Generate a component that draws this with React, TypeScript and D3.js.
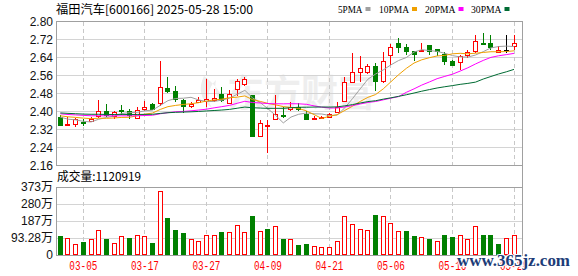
import React from 'react';
import * as d3 from 'd3';

const dates = [
  '02-28', '03-03', '03-04', '03-05', '03-06', '03-07', '03-10', '03-11', '03-12', '03-13', '03-14',
  '03-17', '03-18', '03-19', '03-20', '03-21', '03-24', '03-25', '03-26', '03-27', '03-28',
  '03-31', '04-01', '04-02', '04-03', '04-07', '04-08', '04-09', '04-10', '04-11',
  '04-14', '04-15', '04-16', '04-17', '04-18', '04-21', '04-22', '04-23', '04-24', '04-25',
  '04-28', '04-29', '04-30', '05-06', '05-07', '05-08', '05-09', '05-12', '05-13', '05-14',
  '05-15', '05-16', '05-19', '05-20', '05-21', '05-22', '05-23', '05-26', '05-27', '05-28',
];
const open = [
  2.376, 2.343, 2.342, 2.352, 2.358, 2.380, 2.401, 2.378, 2.408, 2.403,
  2.372, 2.412, 2.432, 2.435, 2.504, 2.492, 2.450, 2.424, 2.443, 2.447,
  2.449, 2.476, 2.435, 2.498, 2.523, 2.472, 2.292, 2.335, 2.364, 2.382,
  2.410, 2.420, 2.387, 2.365, 2.370, 2.374, 2.395, 2.446, 2.530, 2.576,
  2.576, 2.603, 2.533, 2.649, 2.703, 2.687, 2.667, 2.667, 2.696, 2.676,
  2.655, 2.622, 2.619, 2.649, 2.667, 2.703, 2.703, 2.664, 2.674, 2.689,
];
const high = [
  2.384, 2.376, 2.371, 2.364, 2.373, 2.450, 2.432, 2.400, 2.430, 2.409,
  2.417, 2.447, 2.438, 2.625, 2.552, 2.513, 2.455, 2.443, 2.462, 2.542,
  2.497, 2.507, 2.495, 2.542, 2.553, 2.472, 2.361, 2.361, 2.472, 2.418,
  2.443, 2.435, 2.400, 2.378, 2.380, 2.394, 2.440, 2.554, 2.658, 2.646,
  2.610, 2.615, 2.664, 2.699, 2.726, 2.699, 2.669, 2.704, 2.696, 2.676,
  2.664, 2.626, 2.649, 2.674, 2.738, 2.748, 2.738, 2.689, 2.738, 2.738,
];
const low = [
  2.335, 2.340, 2.332, 2.335, 2.355, 2.369, 2.373, 2.366, 2.385, 2.366,
  2.371, 2.403, 2.406, 2.424, 2.483, 2.443, 2.391, 2.413, 2.435, 2.420,
  2.443, 2.443, 2.432, 2.467, 2.512, 2.290, 2.290, 2.216, 2.361, 2.372,
  2.400, 2.400, 2.360, 2.364, 2.367, 2.370, 2.392, 2.443, 2.524, 2.532,
  2.568, 2.492, 2.526, 2.607, 2.659, 2.649, 2.622, 2.665, 2.649, 2.648,
  2.604, 2.600, 2.585, 2.637, 2.659, 2.699, 2.674, 2.659, 2.659, 2.674,
];
const close = [
  2.340, 2.345, 2.364, 2.348, 2.366, 2.401, 2.383, 2.398, 2.403, 2.385,
  2.408, 2.418, 2.412, 2.509, 2.490, 2.456, 2.424, 2.432, 2.450, 2.455,
  2.459, 2.452, 2.476, 2.535, 2.545, 2.290, 2.347, 2.340, 2.387, 2.378,
  2.420, 2.409, 2.368, 2.370, 2.373, 2.387, 2.418, 2.530, 2.573, 2.591,
  2.601, 2.533, 2.622, 2.686, 2.687, 2.667, 2.655, 2.674, 2.667, 2.668,
  2.625, 2.604, 2.644, 2.664, 2.714, 2.700, 2.687, 2.674, 2.674, 2.703,
];
// volume in 万 (10k lots)
const volume = [
  104, 91, 60, 73, 88, 137, 88, 68, 104, 93,
  110, 104, 68, 351, 201, 137, 122, 86, 79, 110,
  110, 126, 126, 165, 126, 214, 132, 143, 159, 88,
  86, 55, 60, 49, 42, 42, 77, 214, 170, 141,
  137, 219, 214, 174, 130, 130, 104, 100, 86, 78,
  110, 97, 108, 86, 159, 110, 110, 60, 92, 112.0919,
];
// closes before the visible window (used only for the moving averages)
const priorCloses = [
  2.40, 2.41, 2.40, 2.39, 2.40, 2.41, 2.40, 2.39, 2.40, 2.40,
  2.41, 2.40, 2.39, 2.40, 2.40, 2.39, 2.40, 2.40, 2.39, 2.40,
  2.39, 2.39, 2.38, 2.39, 2.38, 2.39, 2.38, 2.38, 2.38,
];
const priceTicks = [2.16, 2.24, 2.32, 2.40, 2.48, 2.56, 2.64, 2.72, 2.80];
const volTicks = [0, 93.28, 186.56, 279.84, 373.12];
const volTickLabels = ['0', '93.28万', '187万', '280万', '373万'];
const xTickLabels = ['03-05', '03-17', '03-27', '04-09', '04-21', '05-06', '05-16', '05-28'];
const maPeriods = [5, 10, 20, 30];
const maNames = ['5PMA', '10PMA', '20PMA', '30PMA'];
const maColors = ['#a0a0a0', '#f0a000', '#ff00ff', '#006b33'];
const title = '福田汽车[600166] 2025-05-28 15:00';
const volLabel = '成交量:1120919';

const W = 578;
const H = 276;
const L = 56;
const R = 522;
const RED = '#ff0000';
const GREEN = '#008000';
const FRAME = '#a0a0a0';
const GRID = '#d4d4d4';

export default function App() {
  const x = d3.scalePoint<string>().domain(dates).range([60.3, 514]);
  const y = d3.scaleLinear().domain([2.16, 2.8]).range([165.3, 21.3]);
  const yv = d3.scaleLinear().domain([0, 373.12]).range([255, 187]);

  const all = priorCloses.concat(close);
  const mas = maPeriods.map((p) =>
    close.map((_, i) => {
      const idx = priorCloses.length + i;
      return d3.mean(all.slice(idx - p + 1, idx + 1)) as number;
    })
  );
  const line = d3
    .line<number>()
    .x((_, i) => x(dates[i]) as number)
    .y((v) => y(v));

  const px = (v: number) => Math.floor(v) + 0.5;

  const candles = dates.map((d, i) => {
    const cx = px(x(d) as number);
    const o = open[i];
    const c = close[i];
    const col = c > o ? RED : c < o ? GREEN : '#000000';
    const yH = y(high[i]);
    const yL = y(low[i]);
    const yT = Math.round(y(Math.max(o, c))) + 0.5;
    const yB = Math.round(y(Math.min(o, c))) + 0.5;
    const els: React.ReactNode[] = [
      <line key="w" x1={cx} x2={cx} y1={yH} y2={yL} stroke={col} strokeWidth={1} />,
    ];
    if (yB - yT < 1) {
      els.push(<line key="b" x1={cx - 2.5} x2={cx + 2.5} y1={yT} y2={yT} stroke={col} strokeWidth={c === o ? 1 : 2} />);
    } else if (c > o) {
      els.push(<rect key="b" x={cx - 2} y={yT} width={4} height={yB - yT} fill="#fff" stroke={col} strokeWidth={1} />);
    } else {
      els.push(<rect key="b" x={cx - 2.5} y={yT - 0.5} width={5} height={yB - yT + 1} fill={col} />);
    }
    return <g key={d}>{els}</g>;
  });

  const vols = dates.map((d, i) => {
    const cx = px(x(d) as number);
    const up = i === 0 ? close[0] >= open[0] : close[i] >= close[i - 1];
    const top = Math.round(yv(volume[i])) + 0.5;
    const base = 254.5;
    return up ? (
      <rect key={d} x={cx - 2} y={top} width={4} height={base - top} fill="#fff" stroke={RED} strokeWidth={1} />
    ) : (
      <rect key={d} x={cx - 2.5} y={top - 0.5} width={5} height={base - top + 1} fill={GREEN} />
    );
  });

  const legendX = [338, 379, 425, 471];
  const legendW = [24.5, 30, 30.5, 30.5];

  const monoFont = "'Liberation Mono', 'Noto Sans CJK SC', monospace";
  const axisFont = "'Liberation Sans', 'Noto Sans CJK SC', sans-serif";

  return (
    <svg width={W} height={H} style={{ position: 'absolute', left: 0, top: 0, background: '#fff' }}>
      <rect x={0} y={0} width={W} height={H} fill="#fff" />
      {/* watermark */}
      <text x={227} y={107} fontFamily="'Noto Sans CJK SC'" fontSize={37} fontWeight={700} fill="#eeeeee">
        东方财富
      </text>
      <path d="M204 76 C 198 88, 200 100, 212 108 C 206 98, 208 88, 216 80 C 214 90, 216 98, 224 104 C 222 92, 214 84, 204 76 Z" fill="#ededed" />

      {/* price grid */}
      {priceTicks.slice(1, -1).map((t) => (
        <line key={t} x1={L} x2={R} y1={Math.round(y(t)) + 0.5} y2={Math.round(y(t)) + 0.5} stroke={GRID} />
      ))}
      {volTicks.slice(1, -1).map((t) => (
        <line key={t} x1={L} x2={R} y1={Math.round(yv(t)) + 0.5} y2={Math.round(yv(t)) + 0.5} stroke={GRID} />
      ))}
      {xTickLabels.map((t) => {
        const xx = px(x(t) as number);
        return (
          <g key={t}>
            <line x1={xx} x2={xx} y1={22} y2={165} stroke="#c8c8c8" strokeDasharray="4,3" />
            <line x1={xx} x2={xx} y1={188} y2={255} stroke="#c8c8c8" strokeDasharray="4,3" />
          </g>
        );
      })}

      {/* frames */}
      <line x1={L} x2={R} y1={21.5} y2={21.5} stroke={FRAME} />
      <line x1={L} x2={R} y1={165.5} y2={165.5} stroke={FRAME} />
      <line x1={L} x2={R} y1={187.5} y2={187.5} stroke={FRAME} />
      <line x1={L} x2={R} y1={255.5} y2={255.5} stroke={FRAME} />
      <line x1={L + 0.5} x2={L + 0.5} y1={21} y2={166} stroke={FRAME} />
      <line x1={L + 0.5} x2={L + 0.5} y1={187} y2={256} stroke={FRAME} />
      <line x1={R + 0.5} x2={R + 0.5} y1={21} y2={256} stroke={FRAME} />

      {/* candles */}
      <g shapeRendering="crispEdges">{candles}</g>

      {/* moving averages */}
      {mas.map((m, k) => (
        <path key={k} d={line(m) as string} fill="none" stroke={maColors[k]} strokeWidth={1} />
      ))}

      {/* volume */}
      <g shapeRendering="crispEdges">{vols}</g>

      {/* axis labels */}
      {priceTicks.map((t) => (
        <text key={t} x={53} y={y(t)} dy="0.35em" textAnchor="end" fontFamily={axisFont} fontSize={12} fill="#111">
          {t.toFixed(2)}
        </text>
      ))}
      {volTicks.map((t, i) => (
        <text key={t} x={53} y={yv(t)} dy="0.35em" textAnchor="end" fontFamily={axisFont} fontSize={12} fill="#111">
          {volTickLabels[i]}
        </text>
      ))}
      {xTickLabels.map((t) => (
        <text key={t} x={x(t) as number} y={270} textAnchor="middle" fontFamily={monoFont} fontSize={12} fill={RED} textLength={28} lengthAdjust="spacingAndGlyphs">
          {t}
        </text>
      ))}

      {/* title & legend */}
      <text x={56} y={13.5} fontFamily="'Noto Sans CJK SC'" fontSize={12} fill="#000" textLength={197} lengthAdjust="spacingAndGlyphs">
        {title}
      </text>
      {maNames.map((n, k) => (
        <g key={n}>
          <text x={legendX[k]} y={12.5} fontFamily="'Liberation Serif', serif" fontSize={11} fill="#000" textLength={legendW[k]} lengthAdjust="spacingAndGlyphs">
            {n}
          </text>
          <rect x={legendX[k] + legendW[k] + 3} y={7} width={5} height={4} fill={maColors[k]} />
        </g>
      ))}
      <text x={57} y={181} fontFamily="'Noto Sans CJK SC'" fontSize={12} fill="#000" textLength={84} lengthAdjust="spacingAndGlyphs">
        {volLabel}
      </text>

      {/* site watermark */}
      <text x={457} y={266} fontFamily="'Liberation Serif', serif" fontSize={17} fontWeight={700} fill="#1d3c78" stroke="#fff" strokeWidth={2} paintOrder="stroke" textLength={113} lengthAdjust="spacingAndGlyphs">
        www.365jz.com
      </text>
    </svg>
  );
}
